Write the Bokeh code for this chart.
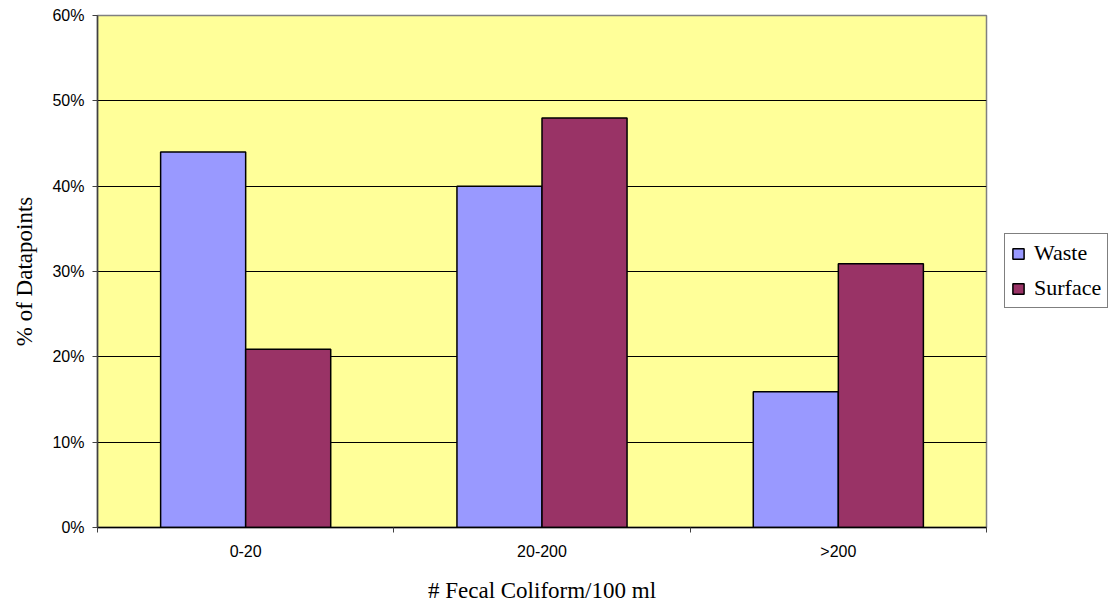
from bokeh.plotting import figure
from bokeh.layouts import row
from bokeh.models import (Range1d, FixedTicker, PrintfTickFormatter, Legend, LegendItem,
                          ColumnDataSource)
from bokeh.embed import file_html
from bokeh.resources import INLINE

# ---- data ----
categories = ["0-20", "20-200", ">200"]
series_names = ["Waste", "Surface"]
waste = [44, 40, 15.9]
surface = [20.9, 48, 30.9]
y_ticks = [0, 10, 20, 30, 40, 50, 60]
colors = ["#9999FF", "#993366"]

bar_w = 0.287
idx = list(range(len(categories)))
waste_x = [i + 0.5 - bar_w / 2 for i in idx]
surface_x = [i + 0.5 + bar_w / 2 for i in idx]

p = figure(width=988, height=608, output_backend="svg", toolbar_location=None,
           x_range=Range1d(0, len(categories)), y_range=Range1d(0, 60),
           min_border_left=97, min_border_right=2, min_border_top=15, min_border_bottom=81)
p.background_fill_color = "#FFFF99"
p.border_fill_color = "white"
p.outline_line_color = "#808080"
p.outline_line_width = 1.5

src_w = ColumnDataSource(dict(x=waste_x, top=waste))
src_s = ColumnDataSource(dict(x=surface_x, top=surface))
p.vbar(x="x", top="top", width=bar_w, bottom=0, source=src_w,
       fill_color=colors[0], line_color="black", line_width=1.5)
p.vbar(x="x", top="top", width=bar_w, bottom=0, source=src_s,
       fill_color=colors[1], line_color="black", line_width=1.5)

# grid
p.xgrid.visible = False
p.ygrid.ticker = FixedTicker(ticks=y_ticks)
p.ygrid.grid_line_color = "black"
p.ygrid.grid_line_width = 1

# y axis
ya = p.yaxis[0]
ya.ticker = FixedTicker(ticks=y_ticks)
ya.formatter = PrintfTickFormatter(format="%d%%")
ya.axis_line_color = "#404040"
ya.axis_line_width = 1.5
ya.major_tick_out = 5
ya.major_tick_in = 0
ya.minor_tick_out = 0
ya.minor_tick_in = 0
ya.major_tick_line_color = "#404040"
ya.major_label_text_font = "Liberation Sans"
ya.major_label_text_font_size = "16px"
ya.major_label_text_color = "black"
ya.major_label_standoff = 8
ya.axis_label = "% of Datapoints"
ya.axis_label_text_font = "Liberation Serif"
ya.axis_label_text_font_style = "normal"
ya.axis_label_text_font_size = "23px"
ya.axis_label_text_color = "black"
ya.axis_label_standoff = 12

# x axis
xa = p.xaxis[0]
xa.ticker = FixedTicker(ticks=[i + 0.5 for i in idx], minor_ticks=[0, 1, 2, 3])
xa.major_label_overrides = {i + 0.5: c for i, c in zip(idx, categories)}
xa.axis_line_color = "black"
xa.axis_line_width = 1.5
xa.major_tick_out = 0
xa.major_tick_in = 0
xa.minor_tick_out = 5
xa.minor_tick_in = 0
xa.minor_tick_line_color = "#404040"
xa.major_label_text_font = "Liberation Sans"
xa.major_label_text_font_size = "16px"
xa.major_label_text_color = "black"
xa.major_label_standoff = 10
xa.axis_label = "# Fecal Coliform/100 ml"
xa.axis_label_text_font = "Liberation Serif"
xa.axis_label_text_font_style = "normal"
xa.axis_label_text_font_size = "23px"
xa.axis_label_text_color = "black"
xa.axis_label_standoff = 15

# legend panel as a separate figure
lg = figure(width=126, height=608, output_backend="svg", toolbar_location=None,
            x_range=Range1d(0, 1), y_range=Range1d(0, 1),
            x_axis_location=None, y_axis_location=None,
            min_border_left=0, min_border_right=0, min_border_top=0, min_border_bottom=0)
lg.outline_line_color = None
lg.background_fill_color = "white"
lg.border_fill_color = "white"
lg.xgrid.visible = False
lg.ygrid.visible = False
# legend-only renderers (hidden; only their legend swatches are drawn)
dummies = []
for c in colors:
    r = lg.vbar(x=[0.5], top=[0.5], width=0.1, fill_color=c, line_color="black", line_width=1.5)
    r.visible = False
    dummies.append(r)

legend = Legend(items=[LegendItem(label=n, renderers=[r]) for n, r in zip(series_names, dummies)],
                location=(16, 219))
legend.label_text_font = "Liberation Serif"
legend.label_text_font_size = "22px"
legend.label_text_color = "black"
legend.glyph_width = 14
legend.glyph_height = 13
legend.label_standoff = 9
legend.label_height = 21
legend.padding = 6
legend.margin = 0
legend.spacing = 9
legend.border_line_color = "black"
legend.border_line_width = 1
legend.background_fill_color = "white"
legend.background_fill_alpha = 1
legend.inactive_fill_alpha = 0
lg.add_layout(legend, "center")

layout = row(p, lg, spacing=0)
open("out.html", "w").write(file_html(layout, INLINE))
